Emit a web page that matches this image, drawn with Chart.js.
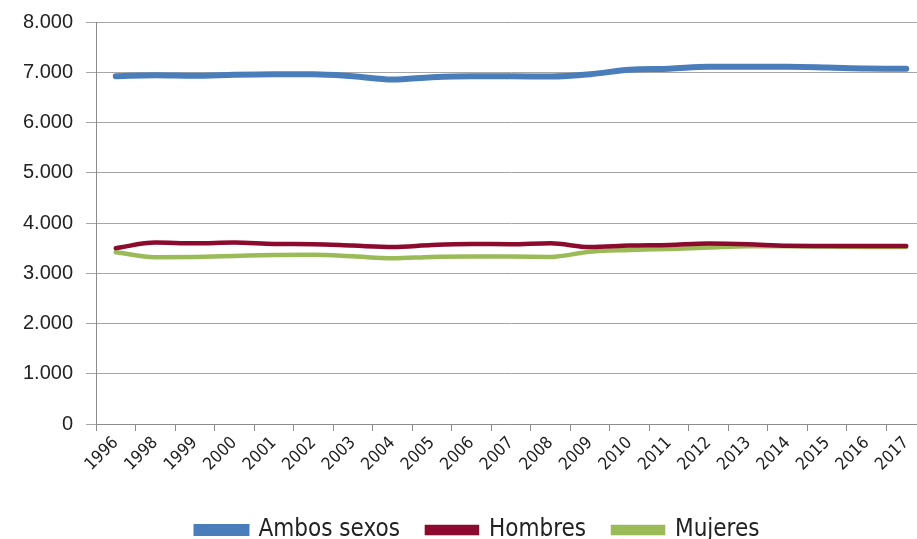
<!DOCTYPE html>
<html>
<head>
<meta charset="utf-8">
<script src="https://cdn.jsdelivr.net/npm/chart.js@4"></script>
<style>
html,body{margin:0;padding:0;overflow:hidden;background:#fff;width:917px;height:539px;}
#wrap{position:absolute;left:0;top:0;width:960px;height:539px;}
</style>
</head>
<body>
<div id="wrap"><canvas id="c"></canvas></div>
<script>
const years = ['1996','1998','1999','2000','2001','2002','2003','2004','2005','2006','2007','2008','2009','2010','2011','2012','2013','2014','2015','2016','2017'];
const ambosSexos = [6920,6940,6930,6950,6960,6960,6920,6855,6900,6920,6920,6915,6960,7050,7070,7110,7110,7110,7095,7075,7070];
const hombres = [3500,3610,3597,3610,3583,3577,3550,3523,3563,3583,3577,3597,3520,3550,3563,3590,3577,3545,3543,3540,3540];
const mujeres = [3418,3318,3325,3344,3364,3370,3338,3298,3325,3331,3331,3325,3430,3464,3484,3510,3537,3537,3530,3523,3523];
const yTicks = [0,1000,2000,3000,4000,5000,6000,7000,8000];
const seriesNames = ['Ambos sexos','Hombres','Mujeres'];
const seriesColors = ['#4A7EBB','#8C0A2E','#9BBB59'];

function fmt(v){ return String(v).replace(/\B(?=(\d{3})+(?!\d))/g,'.'); }

const seriesData = [ambosSexos, hombres, mujeres];
const widths = [6,4.5,4.5];
const narrow = '"Liberation Sans Narrow","DejaVu Sans Condensed",sans-serif';
const legendShift = {
  id: 'legendShift',
  afterLayout(chart) {
    if (chart.legend) { chart.legend.left += 30; }
  }
};
new Chart(document.getElementById('c'), {
  type: 'line',
  data: {
    labels: years,
    datasets: seriesData.map((d,i)=>({
      label: seriesNames[i],
      data: d,
      borderColor: seriesColors[i],
      backgroundColor: seriesColors[i],
      borderWidth: widths[i],
      pointRadius: 0,
      tension: 0.4,
      cubicInterpolationMode: 'monotone',
      borderCapStyle: 'round',
      fill: false
    }))
  },
  plugins: [legendShift],
  options: {
    responsive: true,
    maintainAspectRatio: false,
    animation: false,
    layout: { padding: { top: 22, left: 0, right: 34, bottom: -13 } },
    plugins: {
      legend: {
        position: 'bottom',
        labels: {
          font: { family: narrow, size: 24 },
          color: '#222',
          boxWidth: 50,
          boxHeight: 6,
          padding: 27
        }
      },
      tooltip: { enabled: false }
    },
    scales: {
      x: {
        offset: true,
        grid: { display: true, drawOnChartArea: false, offset: true, tickLength: 7, color: '#8c8c8c' },
        border: { color: '#8c8c8c' },
        ticks: {
          maxRotation: 45, minRotation: 45, autoSkip: false,
          font: { family: narrow, size: 17 },
          color: '#222', padding: 2
        },
        afterFit: s => { s.height = 67; }
      },
      y: {
        min: 0, max: 8000,
        afterBuildTicks: s => { s.ticks = yTicks.map(v=>({value:v})); },
        grid: { color: '#a6a6a6', tickLength: 10 },
        border: { color: '#8c8c8c' },
        ticks: {
          callback: v => fmt(v),
          font: { family: '"Liberation Sans",Arial,sans-serif', size: 20 },
          color: '#222', padding: 13
        },
        afterFit: s => { s.width = 96; s.paddingTop = 0; s.paddingBottom = 0; }
      }
    }
  }
});
</script>
</body>
</html>
